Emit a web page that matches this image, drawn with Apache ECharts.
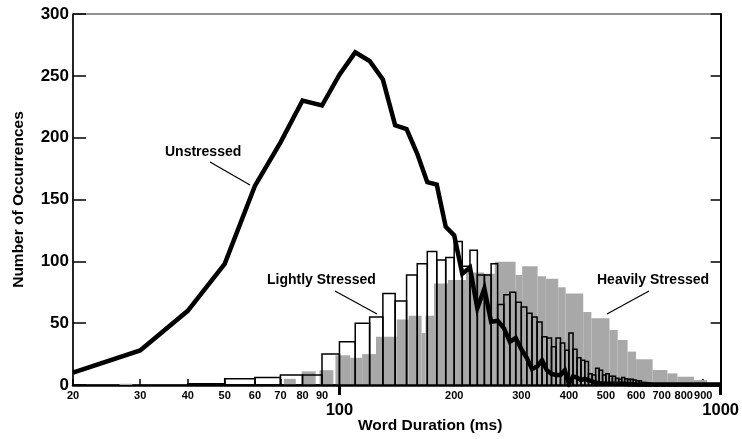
<!DOCTYPE html>
<html>
<head>
<meta charset="utf-8">
<script src="https://cdn.jsdelivr.net/npm/echarts@6/dist/echarts.min.js"></script>
<style>
  html, body { margin: 0; padding: 0; background: #fff; }
  #chart { width: 742px; height: 439px; }
</style>
</head>
<body>
<div id="chart"></div>
<script>
// tick labels on the log duration axis
const minorTicks = [20, 30, 40, 50, 60, 70, 80, 90, 200, 300, 400, 500, 600, 700, 800, 900];
const majorTicks = [100, 1000];

// Unstressed: curve vertices [ms], counts
const unstressedMs = [20, 30, 40, 50, 60, 70, 80, 90, 100, 110, 120, 130, 140, 150, 160, 170, 180, 190,
  200, 210, 220, 230, 240, 250, 260, 270, 280, 290, 300, 310, 320, 330, 340, 350, 360, 370, 380, 390,
  400, 410, 420, 430, 440, 450, 460, 470, 480, 500, 550, 600, 700, 800, 900, 1000];
const unstressedCount = [10, 28, 60, 98, 161, 196, 230, 226, 251, 269, 262, 247, 210, 207, 187, 164, 162, 128,
  121, 90, 95, 62, 78, 51, 52, 46, 35, 38, 29, 22, 13, 15, 20, 12, 9, 8, 8, 12,
  1, 7, 6, 4, 5, 4, 3, 2, 1.5, 1, 1, 0.5, 0.5, 0.5, 0.5, 0.5];

// Lightly stressed: 10 ms bins (lower bound), counts
const lightStart = [40, 50, 60, 70, 80, 90, 100, 110, 120, 130, 140, 150, 160, 170, 180, 190,
  200, 210, 220, 230, 240, 250, 260, 270, 280, 290, 300, 310, 320, 330, 340, 350, 360, 370, 380, 390,
  400, 410, 420, 430, 440, 450, 460, 470, 480, 490, 500, 510, 520, 530, 540, 550, 560, 570, 580, 590,
  600, 610, 620, 630, 640, 650, 660, 670, 680, 690];
const lightCount = [1, 5, 6, 8, 8, 25, 35, 50, 55, 74, 68, 89, 98, 108, 101, 103,
  116, 96, 109, 89, 89, 98, 65, 73, 75, 67, 63, 58, 55, 51, 39, 38, 31, 38, 34, 28,
  42, 29, 22, 20, 19, 9, 8, 13.5, 12, 8, 9, 7, 7, 5.4, 4.6, 6, 5, 4.6, 4.6, 4,
  3.5, 3.5, 2, 2, 1.5, 1.5, 1, 1, 1, 1];

// Heavily stressed: step edges [ms] and counts
const heavyStart = [26.5, 71.5, 79.6, 88.7, 97.6, 106.7, 114.7, 124.7, 141.4, 151.9, 164.2, 168.2, 177,
  192.6, 214.9, 239.7, 255.6, 289.8, 301.6, 331, 348, 375, 392, 436, 458, 511, 537, 570, 600, 663, 725, 770, 851, 921];
const heavyEnd = [28.6, 76.8, 86.6, 96.4, 106.7, 114.7, 124.7, 141.4, 151.9, 164.2, 168.2, 177, 192.6,
  214.9, 239.7, 255.6, 289.8, 301.6, 331, 348, 375, 392, 436, 458, 511, 537, 570, 600, 663, 725, 770, 851, 921, 987];
const heavyCount = [1, 5, 11, 12, 24, 22, 25, 39, 53, 56, 42, 56, 82,
  85, 91, 90, 99.7, 89, 96, 88, 86, 79, 74, 59, 54, 44.5, 36.4, 27, 20.8, 12.1, 9.4, 6.7, 4, 1.9];

const FONT = 'Liberation Sans';
const chart = echarts.init(document.getElementById('chart'));

const heavyData = heavyStart.map((s, i) => [s, heavyEnd[i], heavyCount[i]]);
const lightData = lightStart.map((s, i) => [s, s + 10, lightCount[i]]);

function binRect(fillStyle) {
  return function (params, api) {
    const top = api.coord([api.value(0), api.value(2)]);
    const bottom = api.coord([api.value(1), 0]);
    return {
      type: 'rect',
      shape: { x: top[0], y: top[1], width: bottom[0] - top[0], height: bottom[1] - top[1] },
      style: fillStyle
    };
  };
}

const xBase = {
  type: 'log',
  logBase: 10,
  min: 20,
  max: 1000,
  position: 'bottom',
  splitLine: { show: false },
  minorTick: { show: false }
};

chart.setOption({
  animation: false,
  grid: {
    left: 73, right: 15, top: 14, bottom: 54,
    show: true, borderColor: '#222', borderWidth: 1
  },
  xAxis: [
    Object.assign({}, xBase, {
      axisLine: { show: true, lineStyle: { color: '#000', width: 2.5 } },
      axisTick: { show: true, inside: true, length: 6, lineStyle: { color: '#000', width: 1.5 }, customValues: minorTicks },
      axisLabel: {
        customValues: minorTicks, interval: 0, hideOverlap: false, margin: 5,
        formatter: v => String(Math.round(v)),
        color: '#000', fontSize: 11, fontWeight: 'bold', fontFamily: FONT
      }
    }),
    Object.assign({}, xBase, {
      axisLine: { show: false },
      axisTick: { show: true, inside: false, length: 10, lineStyle: { color: '#000', width: 3 }, customValues: majorTicks },
      axisLabel: {
        customValues: majorTicks, interval: 0, hideOverlap: false, margin: 17,
        formatter: v => String(Math.round(v)),
        color: '#000', fontSize: 16.5, fontWeight: 'bold', fontFamily: FONT
      }
    })
  ],
  yAxis: [
    {
      type: 'value', min: 0, max: 300, interval: 50, position: 'left',
      name: 'Number of Occurrences', nameLocation: 'middle', nameGap: 46,
      nameTextStyle: { color: '#000', fontSize: 15.5, fontWeight: 'bold', fontFamily: FONT },
      axisLine: { show: true, lineStyle: { color: '#000', width: 1.5 } },
      axisTick: { show: true, inside: true, length: 13, lineStyle: { color: '#000', width: 1.5 } },
      axisLabel: { margin: 4, color: '#000', fontSize: 17, fontWeight: 'bold', fontFamily: FONT },
      splitLine: { show: false }
    },
    {
      type: 'value', min: 0, max: 300, interval: 50, position: 'right',
      axisLine: { show: true, lineStyle: { color: '#000', width: 2 } },
      axisTick: { show: true, inside: true, length: 10, lineStyle: { color: '#000', width: 1.5 } },
      axisLabel: { show: false },
      splitLine: { show: false }
    }
  ],
  series: [
    {
      name: 'Heavily Stressed',
      type: 'custom',
      data: heavyData,
      encode: { x: [0, 1], y: 2 },
      renderItem: binRect({ fill: '#a8a8a8', stroke: null }),
      z: 1
    },
    {
      name: 'Lightly Stressed',
      type: 'custom',
      data: lightData,
      encode: { x: [0, 1], y: 2 },
      renderItem: binRect({ fill: 'none', stroke: '#000', lineWidth: 1.5 }),
      z: 2
    },
    {
      name: 'Unstressed',
      type: 'line',
      data: unstressedMs.map((m, i) => [m, unstressedCount[i]]),
      showSymbol: false,
      lineStyle: { color: '#000', width: 4.5, join: 'miter' },
      z: 3
    }
  ],
  graphic: [
    { type: 'text', left: 165, top: 145, style: { text: 'Unstressed', font: 'bold 14px "Liberation Sans"', fill: '#000' } },
    { type: 'line', shape: { x1: 210, y1: 162, x2: 250, y2: 185 }, style: { stroke: '#000', lineWidth: 1.2 } },
    { type: 'text', left: 267, top: 273, style: { text: 'Lightly Stressed', font: 'bold 14px "Liberation Sans"', fill: '#000' } },
    { type: 'line', shape: { x1: 335, y1: 291, x2: 377, y2: 314 }, style: { stroke: '#000', lineWidth: 1.2 } },
    { type: 'text', left: 597, top: 273, style: { text: 'Heavily Stressed', font: 'bold 14px "Liberation Sans"', fill: '#000' } },
    { type: 'line', shape: { x1: 649, y1: 291, x2: 607, y2: 314 }, style: { stroke: '#000', lineWidth: 1.2 } },
    { type: 'text', left: 358, top: 418, style: { text: 'Word Duration (ms)', font: 'bold 15.5px "Liberation Sans"', fill: '#000' } }
  ]
});
</script>
</body>
</html>
